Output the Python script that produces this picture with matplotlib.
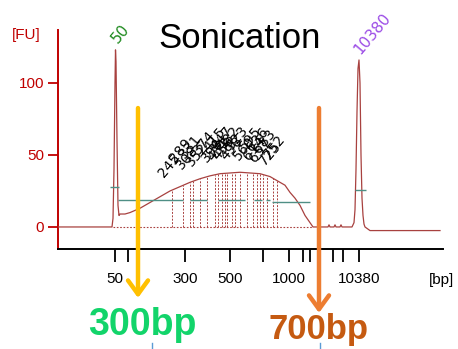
import matplotlib
matplotlib.use("Agg")
import matplotlib.pyplot as plt
import numpy as np
from matplotlib.lines import Line2D

# ---------------- data ----------------
trace_x = [0, 54, 55, 56, 57, 57.5, 58, 59, 60, 61, 62, 67, 72, 82, 92, 102, 112, 122, 132,
           142, 152, 162, 172, 182, 192, 202, 212, 222, 227, 232, 237, 242, 247, 252, 255,
           270, 271, 272, 276, 277, 278, 282, 283, 284, 294, 296, 297, 298, 299, 300, 301,
           302, 303, 304, 305, 306, 307, 312, 382]
trace_fu = [0, 0, 6, 40, 100, 123, 115, 60, 15, 8, 9, 9, 10, 13, 17, 21, 25, 28, 31,
            33.5, 35.5, 37, 37.5, 38, 37.5, 37, 35, 31, 29, 24, 20, 15, 8, 3, 0,
            0, 1.5, 0, 0, 1.5, 0, 0, 1.5, 0, 0, 3, 12, 40, 80, 110, 116,
            100, 50, 20, 8, 2, 0, -2.5, -2.5]

peak_x = [114, 125, 132, 135, 142, 149, 157, 160, 164, 167, 169, 174, 177, 182, 189,
          195, 199, 202, 205, 209, 215, 219]
peak_labels = ["245", "289", "308", "331", "352", "374", "398", "415", "431", "447", "459",
               "482", "498", "523", "560", "595", "614", "636", "657", "683", "725", "752"]

region_x0 = [60, 132, 160, 196, 208, 214, 52, 297]
region_x1 = [125, 149, 187, 204, 212, 252, 61, 308]
region_fu = [18.8, 18.8, 18.8, 18.8, 18.8, 17.4, 27.8, 26]

xtick_pos = [57, 70, 127, 172, 205, 231, 245, 252, 275, 285, 301]
xtick_labels = ["50", "", "300", "500", "", "1000", "", "", "", "", "10380"]
ytick_pos = [0, 50, 100]
ytick_labels = ["0", "50", "100"]

marker_lower = ("50", 57.5)
marker_upper = ("10380", 301)

cut_low = ("300bp", 80)
cut_high = ("700bp", 261)

# ---------------- figure ----------------
W, H = 458, 349
fig = plt.figure(figsize=(W / 100, H / 100), dpi=100)
ax = fig.add_axes([58 / W, (H - 249) / H, 385 / W, 219 / H])
ax.set_xlim(0, 385)
ax.set_ylim(-15.3, 136.8)

red = "#C00000"
trace_col = "#A8413F"

for s in ["top", "right"]:
    ax.spines[s].set_visible(False)
ax.spines["left"].set_color(red)
ax.spines["left"].set_linewidth(1.4)
ax.spines["bottom"].set_color("black")
ax.spines["bottom"].set_linewidth(1.4)

ax.set_xticks(xtick_pos)
ax.set_xticklabels(xtick_labels, fontfamily="Liberation Sans", fontsize=11)
ax.tick_params(axis="x", direction="out", length=9.5, width=1.3, color="black", pad=7)
ax.set_yticks(ytick_pos)
ax.set_yticklabels(ytick_labels, fontfamily="Liberation Sans", fontsize=11, color=red)
ax.tick_params(axis="y", direction="out", length=7, width=1.3, color=red, pad=3)

# trace
ax.plot(trace_x, trace_fu, color=trace_col, lw=0.9, zorder=3)
# dotted baseline
ax.plot([55, 255], [0, 0], color=trace_col, lw=0.8, ls=(0, (1.5, 1.5)), zorder=2)
# peak dashed lines
peak_top = np.interp(peak_x, trace_x, trace_fu)
ax.vlines(peak_x, 0, peak_top, colors=trace_col, lw=0.7, linestyles=(0, (2, 1.5)), zorder=2)
# region lines
ax.hlines(region_fu, region_x0, region_x1, colors="#4f8f85", lw=1.0, zorder=4)

# peak labels
for i, (px, lab, top) in enumerate(zip(peak_x, peak_labels, peak_top)):
    off = 7 if i % 2 == 0 else 14
    ax.text(px - 6, top + off, lab, rotation=50, rotation_mode="anchor",
            ha="left", va="bottom", fontsize=10, color="black", zorder=5)

# marker labels
ax.text(marker_lower[1] + 5, 134, marker_lower[0], rotation=50, rotation_mode="anchor",
        ha="center", va="center", fontsize=11, color="#1E8A1E", clip_on=False)
ax.text(marker_upper[1] + 13, 134, marker_upper[0], rotation=50, rotation_mode="anchor",
        ha="center", va="center", fontsize=11, color="#9B4BE6", clip_on=False)

# arrows
for (lab, xv), col, yend in [(cut_low, "#FFC000", -49.3), (cut_high, "#ED7D31", -59.7)]:
    ax.annotate("", xy=(xv, yend), xytext=(xv, 82.6), xycoords="data",
                arrowprops=dict(arrowstyle="->,head_length=0.55,head_width=0.4",
                                color=col, lw=3.2, mutation_scale=18,
                                shrinkA=0, shrinkB=0),
                annotation_clip=False, zorder=10)

# texts
fig.text(240 / W, 1 - 39 / H, "Sonication", fontsize=25, fontfamily="Liberation Sans",
         ha="center", va="center", color="black")
fig.text(26 / W, 1 - 35 / H, "[FU]", fontsize=11, fontfamily="Liberation Sans",
         ha="center", va="center", color=red)
fig.text(441 / W, 1 - 280 / H, "[bp]", fontsize=11, fontfamily="Liberation Sans",
         ha="center", va="center", color="black")
fig.text(142.5 / W, 1 - 325 / H, cut_low[0], fontsize=27, fontweight="bold",
         fontfamily="Liberation Sans", ha="center", va="center", color="#12D46A")
fig.text(318 / W, 1 - 329 / H, cut_high[0], fontsize=25, fontweight="bold",
         fontfamily="Liberation Sans", ha="center", va="center", color="#C55A11")

# small slide ticks
for xp in [152, 320]:
    fig.add_artist(Line2D([xp / W, xp / W], [0, 6 / H], color="#5B9BD5", lw=1))

fig.savefig("out.png", dpi=100)
